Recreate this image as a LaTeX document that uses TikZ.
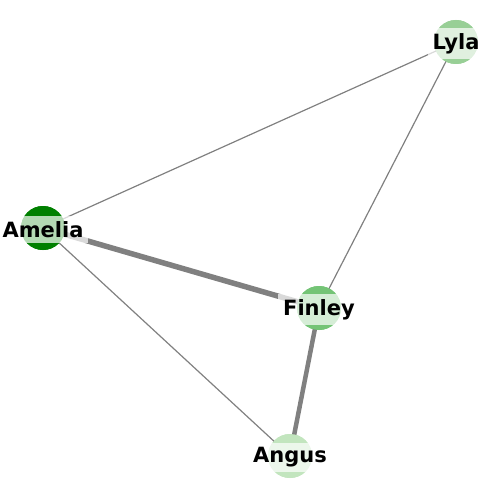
\documentclass[tikz,border=0pt]{standalone}
\usepackage{fontspec}
\setmainfont{DejaVu Sans}
\begin{document}
\begin{tikzpicture}[x=1pt,y=-1pt,
  vert/.style={circle,minimum size=44pt,inner sep=0pt,draw=none},
  lbl/.style={fill=white,fill opacity=0.7,text opacity=1,inner xsep=5pt,inner ysep=5pt,
    font=\fontsize{21}{23}\selectfont\bfseries,text=black,yshift=-1.5pt},
  thin edge/.style={draw=black!50,line width=1.2pt},
  thick edge/.style={draw=black!50,line width=5.5pt}]
\useasboundingbox (0,0) rectangle (500,500);
\definecolor{cAmelia}{RGB}{0,128,0}
\definecolor{cLyla}{RGB}{152,207,150}
\definecolor{cFinley}{RGB}{116,196,118}
\definecolor{cAngus}{RGB}{194,229,190}
\coordinate (pLyla) at (456,42);
\coordinate (pAmelia) at (43,228);
\coordinate (pFinley) at (319,308);
\coordinate (pAngus) at (290,456);
\node[vert,fill=cLyla] (Lyla) at (pLyla) {};
\node[vert,fill=cAmelia] (Amelia) at (pAmelia) {};
\node[vert,fill=cFinley] (Finley) at (pFinley) {};
\node[vert,fill=cAngus] (Angus) at (pAngus) {};
\draw[thin edge] (Lyla.center) -- (Amelia.center);
\draw[thin edge] (Lyla.center) -- (Finley.center);
\draw[thick edge] (Amelia.center) -- (Finley.center);
\draw[thin edge] (Amelia.center) -- (Angus.center);
\draw[thick edge,line width=4.5pt] (Finley.center) -- (Angus.center);
\node[vert,fill=cLyla] at (pLyla) {};
\node[vert,fill=cAmelia] at (pAmelia) {};
\node[vert,fill=cFinley] at (pFinley) {};
\node[vert,fill=cAngus] at (pAngus) {};
\node[lbl] (tLyla) at (pLyla) {Lyla};
\node[lbl] (tAmelia) at (pAmelia) {Amelia};
\node[lbl] (tFinley) at (pFinley) {Finley};
\node[lbl] (tAngus) at (pAngus) {Angus};
\end{tikzpicture}
\end{document}
